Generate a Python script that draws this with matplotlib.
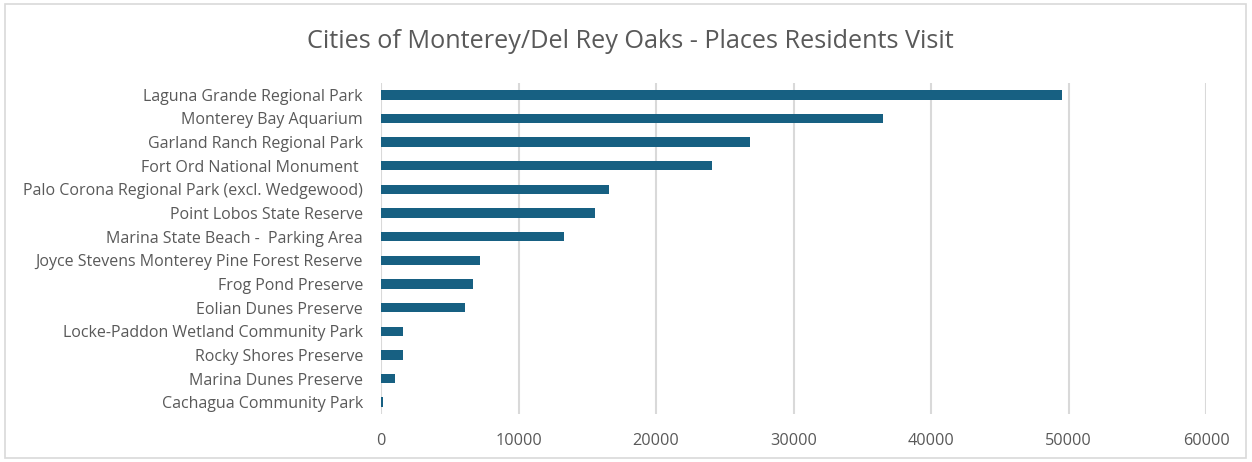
import matplotlib
matplotlib.use("Agg")
import matplotlib.pyplot as plt
from matplotlib.patches import Rectangle

places = [
    "Laguna Grande Regional Park",
    "Monterey Bay Aquarium",
    "Garland Ranch Regional Park",
    "Fort Ord National Monument ",
    "Palo Corona Regional Park (excl. Wedgewood)",
    "Point Lobos State Reserve",
    "Marina State Beach -  Parking Area",
    "Joyce Stevens Monterey Pine Forest Reserve",
    "Frog Pond Preserve",
    "Eolian Dunes Preserve",
    "Locke-Paddon Wetland Community Park",
    "Rocky Shores Preserve",
    "Marina Dunes Preserve",
    "Cachagua Community Park",
]
visits = [49500, 36500, 26800, 24050, 16550, 15530, 13300, 7230, 6700, 6100, 1580, 1600, 1000, 150]
xticks = [0, 10000, 20000, 30000, 40000, 50000, 60000]
title = "Cities of Monterey/Del Rey Oaks - Places Residents Visit"

W, H = 1252, 462
plt.rcParams["font.family"] = ["Open Sans", "DejaVu Sans"]
fig = plt.figure(figsize=(W / 100, H / 100), dpi=100)
fig.patch.set_facecolor("white")

left, right, top, bottom = 381, 1206, 83, 414
ax = fig.add_axes([left / W, 1 - bottom / H, (right - left) / W, (bottom - top) / H])

y = list(range(len(places)))
ax.barh(y, visits, height=0.4, color="#176082", zorder=3)
ax.set_ylim(len(places) - 0.5, -0.5)
ax.set_xlim(0, 60000)
ax.set_yticks(y)
ax.set_yticklabels(places, fontsize=11.5, color="#595959")
ax.set_xticks(xticks)
ax.set_xticklabels([str(v) for v in xticks], fontsize=11.7, color="#595959")
ax.tick_params(axis="both", length=0)
ax.tick_params(axis="y", pad=13)
ax.tick_params(axis="x", pad=14)
ax.grid(axis="x", color="#d9d9d9", linewidth=1.5, zorder=0)
for s in ax.spines.values():
    s.set_visible(False)

fig.text(630 / W, 1 - 41 / H, title, ha="center", va="center", fontsize=18.2, color="#595959")

fig.patches.append(Rectangle((5 / W, 1 - 458 / H), 1241 / W, 454 / H, transform=fig.transFigure,
                             fill=False, edgecolor="#d9d9d9", linewidth=1.2))

fig.savefig("out.png", dpi=100, facecolor="white")
